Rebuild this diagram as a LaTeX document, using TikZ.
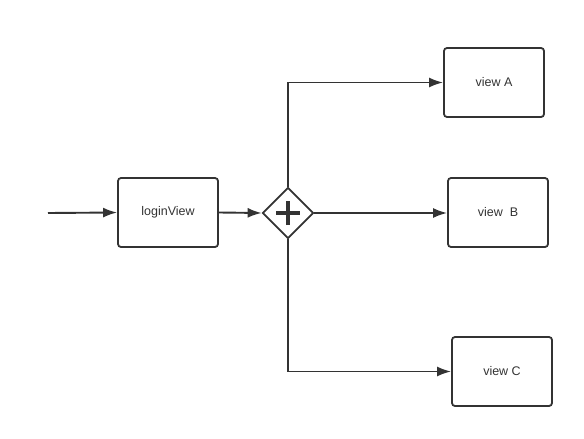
\documentclass[tikz,border=0pt]{standalone}
\usepackage{fontspec}
\setmainfont{Liberation Sans}
\usetikzlibrary{shapes.geometric,arrows.meta}
\definecolor{ink}{HTML}{333333}
\tikzset{
  view/.style={draw=ink,line width=1.8pt,rounded corners=3pt,minimum width=100pt,minimum height=69pt,inner sep=0pt,font=\fontsize{12.5}{14}\selectfont,text=ink},
  gate/.style={draw=ink,line width=1.8pt,diamond,minimum width=51pt,minimum height=51pt,inner sep=0pt},
  flow/.style={draw=ink,line width=1.9pt,-{Latex[length=14pt,width=10pt]}}
}
\begin{document}
\begin{tikzpicture}[x=1pt,y=-1pt]
\useasboundingbox (0,0) rectangle (584,439);
% Start and login
\coordinate (start) at (48,213);
\node[view] (login) at (168,212.5) {loginView};

% Parallel gateway
\node[gate] (split) at (288,213) {};
\draw[ink,line width=3.6pt] ([xshift=-12pt]split.center) -- ([xshift=12pt]split.center);
\draw[ink,line width=3.6pt] ([yshift=-12pt]split.center) -- ([yshift=12pt]split.center);

% Target views
\node[view] (viewA) at (494,82.5) {view A};
\node[view] (viewB) at (498,212.5) {view\ \ B};
\node[view] (viewC) at (502,371.5) {view C};

% Connectors
\draw[flow] (start) -- (login.west);
\draw[flow] (login.east) -- (split.west);
\draw[flow] (split.north) |- (viewA.west);
\draw[flow] (split.east) -- (split.east -| viewB.west);
\draw[flow] (split.south) |- (viewC.west);
\end{tikzpicture}
\end{document}
